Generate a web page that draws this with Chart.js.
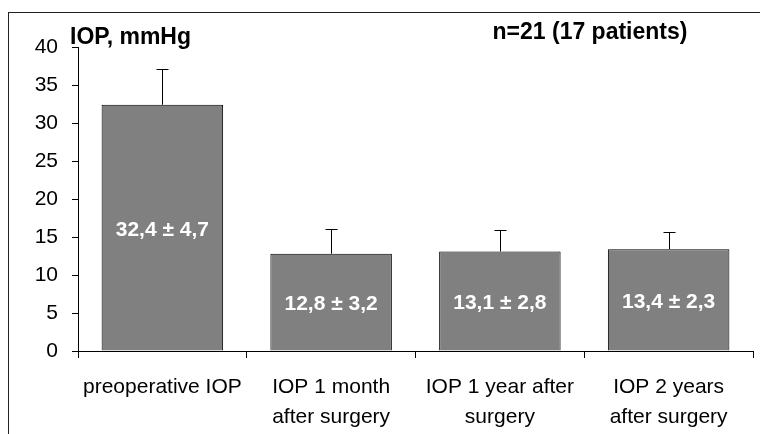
<!DOCTYPE html>
<html>
<head>
<meta charset="utf-8">
<script src="https://cdn.jsdelivr.net/npm/chart.js@4"></script>
<style>
    body { margin: 0; background: #fff; }
    #wrap { position: relative; width: 760px; height: 434px; overflow: hidden; }
    #frame { position: absolute; left: 8px; top: 12px; width: 800px; height: 500px; border: 1px solid #222; }
    #iopChart { position: absolute; left: 0; top: 0; }
</style>
</head>
<body>
<div id="wrap">
    <div id="frame"></div>
    <canvas id="iopChart" width="760" height="434"></canvas>
</div>
<script>
// IOP before and after surgery
const categories = [
    ['preoperative IOP'],
    ['IOP 1 month', 'after surgery'],
    ['IOP 1 year after', 'surgery'],
    ['IOP 2 years', 'after surgery']
];
const meanIop = [32.4, 12.8, 13.1, 13.4];
const sdIop = [4.7, 3.2, 2.8, 2.3];
const barLabels = ['32,4 ± 4,7', '12,8 ± 3,2', '13,1 ± 2,8', '13,4 ± 2,3'];
const yTicks = [0, 5, 10, 15, 20, 25, 30, 35, 40];

const FONT = '"Liberation Sans", Arial, sans-serif';

// Upward error bars (mean + sd)
const errorBars = {
    id: 'errorBars',
    afterDatasetsDraw(chart) {
        const ctx = chart.ctx;
        const meta = chart.getDatasetMeta(0);
        const y = chart.scales.y;
        ctx.save();
        ctx.strokeStyle = '#000';
        ctx.lineWidth = 1;
        meta.data.forEach((bar, i) => {
            const x = Math.round(bar.x) + 0.5;
            const top = Math.round(y.getPixelForValue(meanIop[i] + sdIop[i])) + 0.5;
            const base = y.getPixelForValue(meanIop[i]);
            ctx.beginPath();
            ctx.moveTo(x, base);
            ctx.lineTo(x, top);
            ctx.moveTo(x - 6, top);
            ctx.lineTo(x + 6, top);
            ctx.stroke();
        });
        ctx.restore();
    }
};

// White value labels inside the bars
const barText = {
    id: 'barText',
    afterDatasetsDraw(chart) {
        const ctx = chart.ctx;
        const meta = chart.getDatasetMeta(0);
        const y = chart.scales.y;
        ctx.save();
        ctx.fillStyle = '#fff';
        ctx.font = 'bold 21px ' + FONT;
        ctx.textAlign = 'center';
        ctx.textBaseline = 'middle';
        meta.data.forEach((bar, i) => {
            ctx.fillText(barLabels[i], bar.x, y.getPixelForValue(meanIop[i] / 2) + 2);
        });
        ctx.restore();
    }
};

// Unit label and sample size text
const headerText = {
    id: 'headerText',
    afterDraw(chart) {
        const ctx = chart.ctx;
        ctx.save();
        ctx.fillStyle = '#000';
        ctx.font = 'bold 23px ' + FONT;
        ctx.textBaseline = 'alphabetic';
        ctx.textAlign = 'left';
        ctx.fillText('IOP, mmHg', 70, 44);
        ctx.textAlign = 'center';
        ctx.fillText('n=21 (17 patients)', 590, 39);
        ctx.restore();
    }
};

new Chart(document.getElementById('iopChart'), {
    type: 'bar',
    data: {
        labels: categories,
        datasets: [{
            data: meanIop,
            backgroundColor: '#808080',
            borderColor: '#000',
            borderWidth: 1,
            categoryPercentage: 1,
            barPercentage: 0.72
        }]
    },
    options: {
        responsive: false,
        animation: false,
        layout: { padding: { top: 47, right: 7, left: 0, bottom: 0 } },
        plugins: {
            legend: { display: false },
            tooltip: { enabled: false }
        },
        scales: {
            x: {
                offset: true,
                grid: { drawOnChartArea: false, drawTicks: true, tickLength: 7, color: '#000', offset: true },
                border: { display: true, color: '#000', width: 1 },
                ticks: {
                    color: '#000',
                    padding: 14,
                    maxRotation: 0,
                    autoSkip: false,
                    font: { family: FONT, size: 21, lineHeight: 1.43 }
                },
                afterFit: s => { s.height = 83; }
            },
            y: {
                min: 0,
                max: 40,
                afterBuildTicks: s => { s.ticks = yTicks.map(v => ({ value: v })); },
                grid: { drawOnChartArea: false, drawTicks: true, tickLength: 6, color: '#000' },
                border: { display: true, color: '#000', width: 1 },
                ticks: {
                    color: '#000',
                    padding: 14,
                    font: { family: FONT, size: 21 }
                },
                afterFit: s => { s.width = 78; }
            }
        }
    },
    plugins: [errorBars, barText, headerText]
});
</script>
</body>
</html>
